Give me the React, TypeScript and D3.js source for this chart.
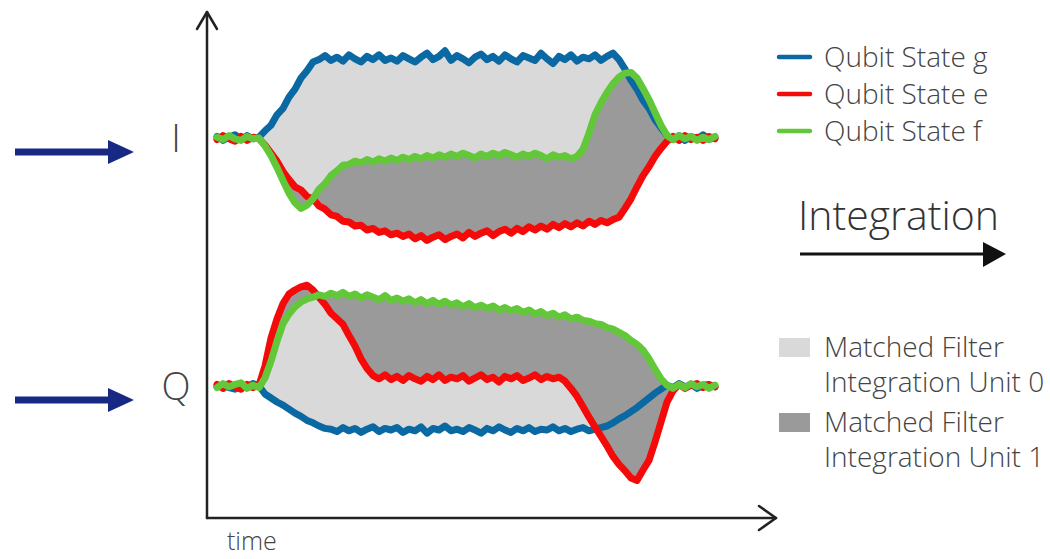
import React from 'react'
import * as d3 from 'd3'

// sample times (ns), one sample every 10 ns
const times = d3.range(84).map(k => k * 10)

// I quadrature, amplitude in a.u.
const gI = [2, -3, 1, 4, -2, 3, -1, 1, 9, 16,
  29, 37, 51, 61, 75, 84, 95, 98, 103, 97,
  101, 96, 104, 99, 95, 102, 98, 104, 97, 100,
  96, 103, 99, 95, 101, 106, 98, 102, 109, 97,
  103, 99, 94, 101, 105, 98, 102, 96, 104, 99,
  95, 103, 100, 97, 106, 99, 93, 102, 98, 104,
  96, 101, 99, 104, 97, 102, 106, 98, 86, 72,
  61, 47, 37, 23, 13, 3, -2, 3, -3, 2,
  -1, 4, -2, 1]
const eI = [-2, 3, -1, -4, 2, -3, 1, -1, -9, -19,
  -29, -42, -52, -61, -65, -73, -76, -85, -89, -96,
  -98, -104, -105, -110, -109, -115, -113, -118, -116, -121,
  -119, -123, -120, -126, -122, -128, -124, -121, -127, -123,
  -120, -125, -118, -123, -119, -116, -122, -117, -114, -119,
  -113, -117, -111, -115, -110, -114, -108, -112, -107, -111,
  -106, -110, -104, -108, -103, -106, -102, -99, -88, -76,
  -61, -47, -36, -23, -13, -4, 2, -3, 3, -2,
  1, -3, 2, -1]
const fI = [1, -2, 3, -1, -3, 2, -1, 0, -10, -22,
  -37, -53, -69, -81, -88, -84, -76, -64, -57, -47,
  -41, -34, -33, -29, -31, -27, -30, -26, -29, -25,
  -28, -24, -27, -23, -26, -22, -25, -21, -24, -20,
  -23, -19, -22, -25, -20, -23, -19, -22, -18, -21,
  -24, -20, -23, -19, -22, -26, -21, -24, -22, -26,
  -23, -14, 6, 29, 44, 57, 68, 76, 81, 82,
  75, 62, 48, 32, 16, 3, -2, 3, -1, 2,
  -3, 1, -2, 2]

// Q quadrature
const gQ = [-1, 2, -2, -4, 1, -1, 3, 0, -10, -15,
  -20, -24, -29, -34, -38, -43, -46, -50, -53, -54,
  -57, -52, -56, -53, -58, -54, -51, -57, -53, -55,
  -52, -58, -54, -56, -51, -59, -53, -55, -50, -56,
  -54, -57, -52, -55, -59, -53, -56, -51, -55, -58,
  -53, -56, -52, -57, -54, -55, -51, -56, -53, -57,
  -54, -52, -56, -54, -52, -50, -46, -41, -37, -32,
  -27, -21, -15, -9, -4, 1, -2, 3, -1, 2,
  -3, 1, 2, -1]
const eQ = [2, -3, 3, -1, -4, 2, -2, 1, 25, 60,
  84, 103, 115, 120, 124, 126, 120, 111, 102, 91,
  84, 77, 63, 50, 34, 22, 13, 9, 14, 8,
  12, 7, 13, 9, 6, 12, 8, 14, 7, 11,
  9, 13, 6, 10, 14, 8, 11, 5, 12, 9,
  13, 7, 10, 14, 8, 12, 9, 11, 6, -3,
  -13, -26, -39, -51, -63, -75, -88, -98, -106, -115,
  -118, -105, -93, -70, -45, -20, -6, 2, -3, 1,
  3, -2, 1, -1]
const fQ = [-2, 3, -1, 2, 4, -3, 1, -2, 10, 31,
  56, 78, 90, 99, 105, 109, 111, 114, 112, 116,
  113, 117, 112, 115, 110, 114, 111, 108, 113, 107,
  110, 106, 109, 104, 108, 103, 107, 102, 106, 101,
  104, 99, 103, 98, 101, 97, 100, 95, 98, 94,
  97, 92, 95, 90, 93, 88, 91, 86, 89, 84,
  86, 82, 81, 78, 77, 73, 71, 67, 63, 57,
  52, 45, 34, 21, 9, 1, -3, 2, -2, 3,
  -1, 2, -3, 1]

const stateLabels = ['Qubit State g', 'Qubit State e', 'Qubit State f']
const stateColors = ['#0a69a3', '#f50a0a', '#62c83a']
const unitLabels = [['Matched Filter', 'Integration Unit 0'], ['Matched Filter', 'Integration Unit 1']]
const unitColors = ['#d9d9d9', '#9a9a9a']
const quadLabels = ['I', 'Q']

const FONT = '"Open Sans", Lato, sans-serif'
const TEXT = '#444'

export default function App() {
  const width = 1050
  const height = 559
  const x = d3.scaleLinear().domain([0, 830]).range([217, 715])
  const panels = [
    { label: quadLabels[0], g: gI, e: eI, f: fI, base: 138 },
    { label: quadLabels[1], g: gQ, e: eQ, f: fQ, base: 386 },
  ]

  return <svg width={width} height={height} style={{ position: 'absolute', left: 0, top: 0 }}
              fontFamily={FONT}>
    {panels.map(p => {
      const y = d3.scaleLinear().domain([-150, 150]).range([p.base + 120, p.base - 120])
      const band = (a: number[], b: number[]) => d3.area<number>()
        .x(i => x(times[i])).y0(i => y(a[i])).y1(i => y(b[i]))(d3.range(times.length))
      const line = d3.line<number>().x((d, i) => x(times[i])).y(d => y(d))
      return <g key={p.label}>
        <path d={band(p.g, p.e) || ''} fill={unitColors[0]} />
        <path d={band(p.f, p.e) || ''} fill={unitColors[1]} />
        {[p.g, p.e, p.f].map((s, i) =>
          <path key={i} d={line(s) || ''} fill="none" stroke={stateColors[i]} strokeWidth={7}
                strokeLinejoin="round" strokeLinecap="round" />)}
        <text x={176} y={p.base} dy="0.36em" textAnchor="middle" fontSize={38} fontWeight={300}
              fill={TEXT}>{p.label}</text>
        <line x1={15} x2={112} y1={p.base + 14} y2={p.base + 14} stroke="#172983" strokeWidth={7} />
        <path d={`M108,${p.base + 2}L134,${p.base + 14}L108,${p.base + 26}Z`} fill="#172983" />
      </g>
    })}

    {/* axes */}
    <g stroke="#222" strokeWidth={2.5} fill="none" strokeLinecap="round" strokeLinejoin="round">
      <path d="M207,518V12" />
      <path d="M197,29L207,12L217,29" />
      <path d="M207,518H776" />
      <path d="M759,506L776,518L759,530" />
    </g>
    <text x={227} y={550} fontSize={25} fontWeight={300} fill={TEXT}>time</text>

    {/* state legend */}
    {stateLabels.map((s, i) => <g key={s} transform={`translate(779,${57 + i * 37})`}>
      <line x1={0} x2={31} stroke={stateColors[i]} strokeWidth={4.5} strokeLinecap="round" />
      <text x={45} dy="0.34em" fontSize={28} fontWeight={300} fill={TEXT}>{s}</text>
    </g>)}

    {/* integration arrow */}
    <text x={798} y={230} fontSize={41} fontWeight={300} fill="#333">Integration</text>
    <line x1={800} x2={988} y1={254} y2={254} stroke="#111" strokeWidth={3} />
    <path d="M983,242L1006,254L983,267Z" fill="#111" />

    {/* unit legend */}
    {unitLabels.map((u, i) => <g key={i} transform={`translate(779,${338 + i * 75})`}>
      <rect width={31} height={19} fill={unitColors[i]} />
      <text x={45} y={19} fontSize={28} fontWeight={300} fill={TEXT}>{u[0]}</text>
      <text x={45} y={54} fontSize={28} fontWeight={300} fill={TEXT}>{u[1]}</text>
    </g>)}
  </svg>
}
